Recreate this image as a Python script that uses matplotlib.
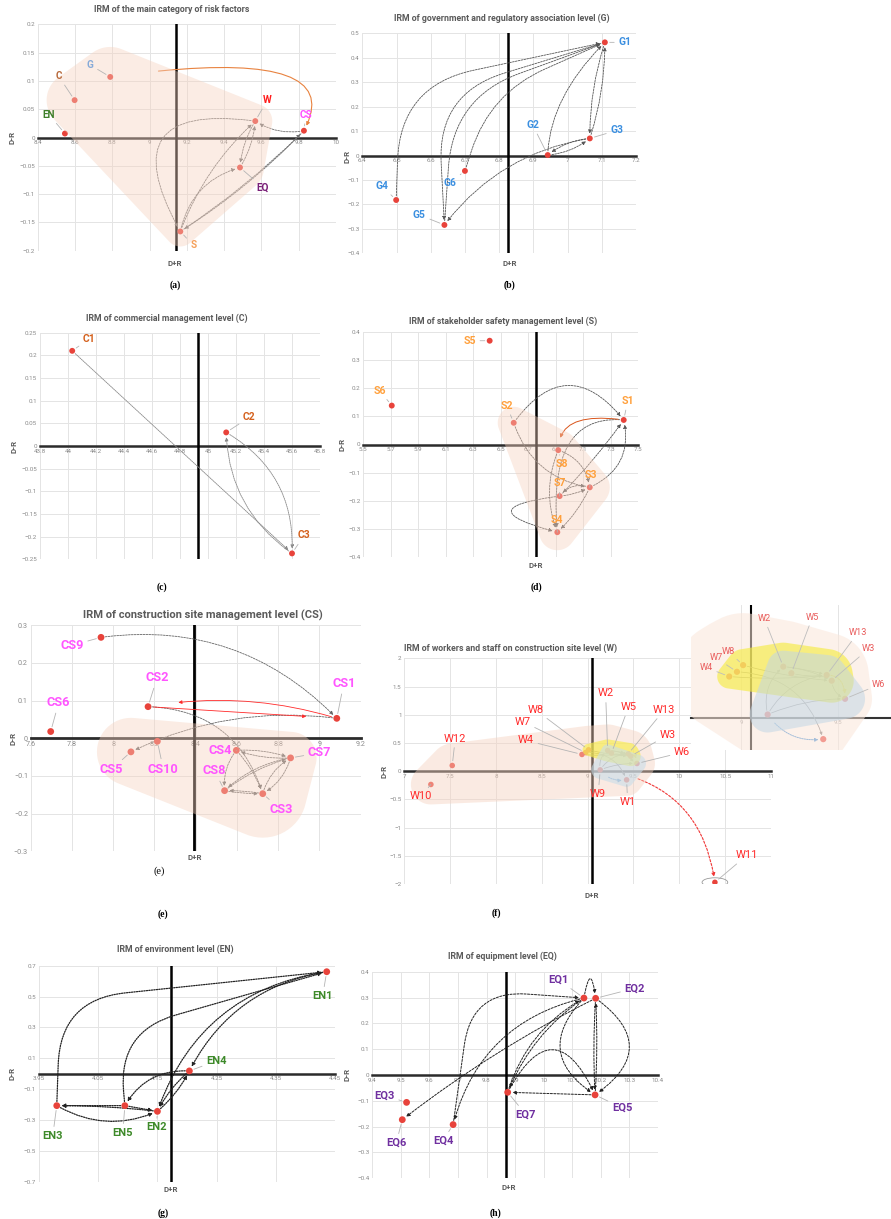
import numpy as np
import matplotlib
matplotlib.use("Agg")
import matplotlib.pyplot as plt
from matplotlib.patches import FancyArrowPatch, Polygon, Ellipse

# ------------------------------------------------------------------ data
# (a) main categories
a_names = ["EN", "C", "G", "W", "CS", "EQ", "S"]
a_x = [8.546, 8.598, 8.789, 9.567, 9.828, 9.485, 9.165]
a_y = [0.007, 0.066, 0.107, 0.029, 0.012, -0.053, -0.166]
a_center = 9.14
a_xticks = [8.4, 8.6, 8.8, 9.0, 9.2, 9.4, 9.6, 9.8, 10.0]
a_xlabels = ["8.4", "8.6", "8.8", "9", "9.2", "9.4", "9.6", "9.8", "10"]
a_yticks = [-0.2, -0.15, -0.1, -0.05, 0, 0.05, 0.1, 0.15, 0.2]
a_ylabels = ["−0.2", "−0.15", "−0.1", "−0.05", "0", "0.05", "0.1", "0.15", "0.2"]
a_links = [("S", "W", "arc3,rad=-0.12"), ("S", "EQ", "arc3,rad=-0.3"),
           ("S", "CS", "arc3,rad=0.05"), ("CS", "S", "arc3,rad=-0.06"),
           ("W", "EQ", "arc3,rad=0.12"), ("EQ", "W", "arc3,rad=0.12"),
           ("CS", "W", "arc3,rad=-0.2"), ("W", "S", "arc3,rad=1.0")]
a_special = [("G", "CS", "angle3,angleA=8,angleB=62")]

# (b) government level
b_names = ["G1", "G2", "G3", "G4", "G5", "G6"]
b_x = [7.109, 6.942, 7.065, 6.499, 6.640, 6.700]
b_y = [0.463, 0.002, 0.070, -0.182, -0.284, -0.063]
b_center = 6.825
b_xticks = [6.4, 6.5, 6.6, 6.7, 6.8, 6.9, 7.0, 7.1, 7.2]
b_xlabels = ["6.4", "6.5", "6.6", "6.7", "6.8", "6.9", "7", "7.1", "7.2"]
b_yticks = [-0.4, -0.3, -0.2, -0.1, 0, 0.1, 0.2, 0.3, 0.4, 0.5]
b_ylabels = ["−0.4", "−0.3", "−0.2", "−0.1", "0", "0.1", "0.2", "0.3", "0.4", "0.5"]
b_links = [("G4", "G1", "angle,angleA=88,angleB=12,rad=75"),
           ("G1", "G5", "angle,angleA=17,angleB=93,rad=70"),
           ("G5", "G1", "angle,angleA=86,angleB=20,rad=70"),
           ("G6", "G1", "angle,angleA=72,angleB=24,rad=60"),
           ("G2", "G1", "angle3,angleA=88,angleB=45"),
           ("G3", "G1", "arc3,rad=0.08"), ("G1", "G3", "arc3,rad=0.08"),
           ("G2", "G3", "arc3,rad=0.15"), ("G3", "G2", "arc3,rad=0.15"),
           ("G3", "G5", "arc3,rad=0.2")]

# (c) commercial level
c_names = ["C1", "C2", "C3"]
c_x = [44.03, 45.13, 45.60]
c_y = [0.210, 0.030, -0.237]
c_center = 44.93
c_xticks = [43.8, 44.0, 44.2, 44.4, 44.6, 44.8, 45.0, 45.2, 45.4, 45.6, 45.8]
c_xlabels = ["43.8", "44", "44.2", "44.4", "44.6", "44.8", "45", "45.2", "45.4", "45.6", "45.8"]
c_yticks = [-0.25, -0.2, -0.15, -0.1, -0.05, 0, 0.05, 0.1, 0.15, 0.2, 0.25]
c_ylabels = ["−0.25", "−0.2", "−0.15", "−0.1", "−0.05", "0", "0.05", "0.1", "0.15", "0.2", "0.25"]
c_links = [("C1", "C3", "arc3,rad=0"), ("C2", "C3", "arc3,rad=-0.3"),
           ("C3", "C2", "arc3,rad=-0.25")]

# (d) stakeholder safety level
d_names = ["S1", "S2", "S3", "S4", "S5", "S6", "S7", "S8"]
d_x = [7.394, 6.594, 7.147, 6.911, 6.419, 5.707, 6.928, 6.918]
d_y = [0.087, 0.077, -0.152, -0.311, 0.368, 0.138, -0.183, -0.020]
d_center = 6.756
d_xticks = [5.5, 5.7, 5.9, 6.1, 6.3, 6.5, 6.7, 6.9, 7.1, 7.3, 7.5]
d_xlabels = ["5.5", "5.7", "5.9", "6.1", "6.3", "6.5", "6.7", "6.9", "7.1", "7.3", "7.5"]
d_yticks = [-0.4, -0.3, -0.2, -0.1, 0, 0.1, 0.2, 0.3, 0.4]
d_ylabels = ["−0.4", "−0.3", "−0.2", "−0.1", "0", "0.1", "0.2", "0.3", "0.4"]
d_links = [("S2", "S1", "arc3,rad=-0.65"), ("S1", "S4", "angle3,angleA=175,angleB=95"),
           ("S2", "S3", "arc3,rad=0.3"), ("S8", "S3", "arc3,rad=-0.3"),
           ("S8", "S4", "arc3,rad=0.2"), ("S3", "S4", "arc3,rad=-0.1"),
           ("S7", "S3", "arc3,rad=0.1"), ("S3", "S7", "arc3,rad=0.35"),
           ("S7", "S4", "arc3,rad=2.6"), ("S7", "S1", "arc3,rad=0.04"),
           ("S3", "S1", "arc3,rad=0.4")]
d_special = [("S1", "S8", "angle3,angleA=172,angleB=90")]

# (e) construction site level
e_names = ["CS1", "CS2", "CS3", "CS4", "CS5", "CS6", "CS7", "CS8", "CS9", "CS10"]
e_x = [9.084, 8.169, 8.725, 8.597, 8.086, 7.697, 8.860, 8.540, 7.941, 8.214]
e_y = [0.053, 0.084, -0.147, -0.032, -0.036, 0.018, -0.052, -0.139, 0.268, -0.008]
e_center = 8.393
e_xticks = [7.6, 7.8, 8.0, 8.2, 8.4, 8.6, 8.8, 9.0, 9.2]
e_xlabels = ["7.6", "7.8", "8", "8.2", "8.4", "8.6", "8.8", "9", "9.2"]
e_yticks = [-0.3, -0.2, -0.1, 0, 0.1, 0.2, 0.3]
e_ylabels = ["−0.3", "−0.2", "−0.1", "0", "0.1", "0.2", "0.3"]
e_links = [("CS9", "CS1", "arc3,rad=-0.25"), ("CS1", "CS5", "arc3,rad=0.15"),
           ("CS2", "CS3", "arc3,rad=-0.35"),
           ("CS4", "CS7", "arc3,rad=-0.1"), ("CS7", "CS4", "arc3,rad=-0.1"),
           ("CS4", "CS8", "arc3,rad=0.2"), ("CS4", "CS3", "arc3,rad=-0.1"),
           ("CS7", "CS8", "arc3,rad=0.15"), ("CS7", "CS3", "arc3,rad=-0.2"),
           ("CS3", "CS7", "arc3,rad=-0.2"), ("CS8", "CS7", "arc3,rad=-0.1"),
           ("CS3", "CS8", "arc3,rad=0.05"), ("CS8", "CS3", "arc3,rad=0.05")]
e_special = [("CS1", "CS2", "arc3,rad=0.12"), ("CS2", "CS1", "arc3,rad=0")]

# (f) workers level
f_names = ["W1", "W2", "W3", "W4", "W5", "W6", "W7", "W8", "W9", "W10", "W11", "W12", "W13"]
f_x = [9.425, 9.218, 9.469, 8.938, 9.260, 9.538, 8.978, 9.010, 9.137, 7.290, 10.388, 7.523, 9.443]
f_y = [-0.154, 0.367, 0.266, 0.296, 0.320, 0.136, 0.330, 0.378, 0.023, -0.236, -1.970, 0.100, 0.307]
f_center = 9.05
f_xticks = [7.0, 7.5, 8.0, 8.5, 9.0, 9.5, 10.0, 10.5, 11.0]
f_xlabels = ["7", "7.5", "8", "8.5", "9", "9.5", "10", "10.5", "11"]
f_yticks = [-2, -1.5, -1, -0.5, 0, 0.5, 1, 1.5, 2]
f_ylabels = ["−2", "−1.5", "−1", "−0.5", "0", "0.5", "1", "1.5", "2"]
f_links = [("W2", "W3", "arc3,rad=-0.1"), ("W5", "W13", "arc3,rad=0.1"),
           ("W2", "W13", "arc3,rad=-0.05"), ("W8", "W3", "arc3,rad=0.05"),
           ("W4", "W13", "arc3,rad=0.05"), ("W7", "W1", "arc3,rad=-0.35"),
           ("W9", "W2", "arc3,rad=-0.3"), ("W9", "W6", "arc3,rad=-0.1"),
           ("W9", "W13", "arc3,rad=-0.25"), ("W3", "W6", "arc3,rad=0.3")]
f_yellow_link = ("W13", "W6", "angle3,angleA=0,angleB=90")
f_blue_link = ("W9", "W1", "arc3,rad=0.3")
f_red_link = ("W9", "W11", "arc3,rad=-0.38")
f_inset_xlim = (8.74, 9.776)
f_inset_ylim = (-0.232, 0.81)

# (g) environment level
g_names = ["EN1", "EN2", "EN3", "EN4", "EN5"]
g_x = [4.436, 4.150, 3.980, 4.204, 4.095]
g_y = [0.661, -0.244, -0.207, 0.018, -0.207]
g_center = 4.173
g_xticks = [3.95, 4.05, 4.15, 4.25, 4.35, 4.45]
g_xlabels = ["3.95", "4.05", "4.15", "4.25", "4.35", "4.45"]
g_yticks = [-0.7, -0.5, -0.3, -0.1, 0.1, 0.3, 0.5, 0.7]
g_ylabels = ["−0.7", "−0.5", "−0.3", "−0.1", "0.1", "0.3", "0.5", "0.7"]
g_links = [("EN3", "EN1", "angle,angleA=88,angleB=6,rad=65"),
           ("EN5", "EN1", "angle,angleA=95,angleB=16,rad=60"),
           ("EN1", "EN2", "arc3,rad=0.3"), ("EN1", "EN4", "arc3,rad=0.25"),
           ("EN4", "EN2", "arc3,rad=0.1"), ("EN2", "EN4", "arc3,rad=0.1"),
           ("EN5", "EN3", "arc3,rad=0"), ("EN2", "EN3", "arc3,rad=0.03"),
           ("EN3", "EN2", "arc3,rad=0.25"), ("EN5", "EN2", "arc3,rad=0"),
           ("EN4", "EN5", "arc3,rad=0.3")]

# (h) equipment level
h_names = ["EQ1", "EQ2", "EQ3", "EQ4", "EQ5", "EQ6", "EQ7"]
h_x = [10.141, 10.182, 9.520, 9.683, 10.180, 9.505, 9.874]
h_y = [0.298, 0.297, -0.106, -0.192, -0.077, -0.173, -0.067]
h_center = 9.868
h_xticks = [9.4, 9.5, 9.6, 9.7, 9.8, 9.9, 10.0, 10.1, 10.2, 10.3, 10.4]
h_xlabels = ["9.4", "9.5", "9.6", "9.7", "9.8", "9.9", "10", "10.1", "10.2", "10.3", "10.4"]
h_yticks = [-0.4, -0.3, -0.2, -0.1, 0, 0.1, 0.2, 0.3, 0.4]
h_ylabels = ["−0.4", "−0.3", "−0.2", "−0.1", "0", "0.1", "0.2", "0.3", "0.4"]
h_links = [("EQ4", "EQ1", "angle,angleA=82,angleB=-4,rad=55"),
           ("EQ1", "EQ4", "arc3,rad=0.3"), ("EQ2", "EQ6", "arc3,rad=0.05"),
           ("EQ7", "EQ1", "arc3,rad=-0.2"), ("EQ1", "EQ7", "arc3,rad=0.15"),
           ("EQ2", "EQ5", "arc3,rad=0.03"), ("EQ5", "EQ2", "arc3,rad=0.03"),
           ("EQ1", "EQ2", "arc3,rad=-3.3"), ("EQ2", "EQ5", "arc3,rad=-0.7"),
           ("EQ5", "EQ7", "arc3,rad=0"), ("EQ7", "EQ5", "arc3,rad=-1.0"),
           ("EQ1", "EQ5", "arc3,rad=0.6")]

# ------------------------------------------------------------------ figure
W, H, DPI = 891, 1219, 100
plt.rcParams['font.family'] = ['Roboto', 'DejaVu Sans']
plt.rcParams['axes.unicode_minus'] = True
fig = plt.figure(figsize=(W / DPI, H / DPI), dpi=DPI)
fig.patch.set_facecolor('white')

GRAY_T = '#5a5a5a'
PT_RED = '#e8433b'


def px_axes(l, t, r, b):
    return fig.add_axes([l / W, 1 - b / H, (r - l) / W, (b - t) / H])


def ftext(x, y, s, **kw):
    fig.text(x / W, 1 - y / H, s, **kw)


def panel(box, xlim, ylim, xt, xl, yt, yl, xc, lw_axis=1.8):
    ax = px_axes(*box)
    ax.set_xlim(xlim)
    ax.set_ylim(ylim)
    ax.set_xticks(xt)
    ax.set_xticklabels(xl)
    ax.set_yticks(yt)
    ax.set_yticklabels(yl)
    ax.grid(True, color='#e4e4e4', lw=0.7)
    ax.set_axisbelow(True)
    for s in ['top', 'right', 'left']:
        ax.spines[s].set_visible(False)
    ax.spines['bottom'].set_position(('data', 0))
    ax.spines['bottom'].set_color('#2b2b2b')
    ax.spines['bottom'].set_linewidth(lw_axis)
    ax.spines['bottom'].set_zorder(2.5)
    ax.tick_params(length=0, labelsize=4.5, labelcolor='#8a8a8a', pad=2)
    ax.axvline(xc, color='black', lw=lw_axis, zorder=2.6)
    ax.set_facecolor('white')
    return ax


def pts(ax, xs, ys, color=PT_RED, s=18, z=4):
    ax.scatter(xs, ys, s=s, color=color, zorder=z, edgecolors='none')


def links(ax, names, xs, ys, lst, color='#6f6f6f', ls=(0, (2.2, 1.3)), lw=0.6,
          ms=5, sa=3, sb=3.5, z=3):
    idx = {n: i for i, n in enumerate(names)}
    for src, dst, cs in lst:
        i, j = idx[src], idx[dst]
        ax.add_patch(FancyArrowPatch((xs[i], ys[i]), (xs[j], ys[j]),
                                     connectionstyle=cs, arrowstyle='-|>',
                                     mutation_scale=ms, color=color, lw=lw,
                                     linestyle=ls, shrinkA=sa, shrinkB=sb,
                                     zorder=z))


def labels(ax, names, xs, ys, offs, color, size, weight='bold', lead='#b4b4b4',
           z=7, ha=None):
    for n, x, y in zip(names, xs, ys):
        dx, dy = offs[n]
        c = color[n] if isinstance(color, dict) else color
        h = ha[n] if (ha and n in ha) else 'center'
        ax.annotate(n, xy=(x, y), xytext=(dx, dy), textcoords='offset pixels',
                    ha=h, va='center', fontsize=size, color=c,
                    fontweight=weight, zorder=z, annotation_clip=False,
                    arrowprops=dict(arrowstyle='-', color=lead, lw=0.6,
                                    shrinkA=1, shrinkB=3.5))


def hull(points):
    P = sorted(map(tuple, points))

    def cross(o, a, b):
        return (a[0] - o[0]) * (b[1] - o[1]) - (a[1] - o[1]) * (b[0] - o[0])
    lower, upper = [], []
    for p in P:
        while len(lower) >= 2 and cross(lower[-2], lower[-1], p) <= 0:
            lower.pop()
        lower.append(p)
    for p in reversed(P):
        while len(upper) >= 2 and cross(upper[-2], upper[-1], p) <= 0:
            upper.pop()
        upper.append(p)
    return np.array(lower[:-1] + upper[:-1])


def blob(ax, names, xs, ys, members, color, alpha, z=5):
    idx = {n: i for i, n in enumerate(names)}
    th = np.linspace(0, 2 * np.pi, 60, endpoint=False)
    circ = np.c_[np.cos(th), np.sin(th)]
    allp = []
    for n, r in members.items():
        p = ax.transData.transform((xs[idx[n]], ys[idx[n]]))
        allp.append(p + r * circ)
    hp = hull(np.vstack(allp))
    data = ax.transData.inverted().transform(hp)
    ax.add_patch(Polygon(data, closed=True, fc=color, ec='none', alpha=alpha,
                         zorder=z))


def title(x, y, s, size=6.3, ha='center'):
    ftext(x, y, s, ha=ha, va='center', fontsize=size, fontweight='bold', color=GRAY_T)


def ylab(x, y):
    ftext(x, y, "D-R", rotation=90, ha='center', va='center', fontsize=5.6,
          fontweight='bold', color=GRAY_T)


def xlab(x, y):
    ftext(x, y, "D+R", ha='center', va='center', fontsize=5.6,
          fontweight='bold', color=GRAY_T)


def letter(x, y, s):
    ftext(x, y, s, ha='center', va='center', fontsize=7, fontweight='bold',
          family='Liberation Serif', color='black')


# ------------------------------------------------------------------ (a)
ax = panel((37.7, 24.3, 336, 250.7), (8.4, 10), (-0.2, 0.2), a_xticks, a_xlabels,
           a_yticks, a_ylabels, a_center)
links(ax, a_names, a_x, a_y, a_links)
links(ax, a_names, a_x, a_y, a_special, color='#e8823f', ls='-', lw=0.8, sa=35, sb=4)
pts(ax, a_x, a_y)
blob(ax, a_names, a_x, a_y, {"C": 28, "G": 30, "W": 17, "EQ": 24, "S": 15},
     '#f6d2bf', 0.42)
a_off = {"EN": (-16, 19), "C": (-16, 24), "G": (-20, 12), "W": (12, 21),
         "CS": (2, 16), "EQ": (23, -20), "S": (13, -14)}
a_col = {"EN": '#3f7f2a', "C": '#b86a3c', "G": '#86aad8', "W": '#ff1a1a',
         "CS": '#ff4dff', "EQ": '#7a1f78', "S": '#f5a05a'}
labels(ax, a_names, a_x, a_y, a_off, a_col, 7.2)
title(172, 10, "IRM of the main category of risk factors")
ylab(12, 137)
xlab(175, 263)
letter(175, 285, "(a)")

# ------------------------------------------------------------------ (b)
ax = panel((362.3, 33.3, 636, 253.3), (6.4, 7.2), (-0.4, 0.5), b_xticks, b_xlabels,
           b_yticks, b_ylabels, b_center)
links(ax, b_names, b_x, b_y, b_links, color='#555555')
pts(ax, b_x, b_y)
b_off = {"G1": (20, 0), "G2": (-15, 30), "G3": (27, 8), "G4": (-14, 14),
         "G5": (-25, 10), "G6": (-15, -12)}
labels(ax, b_names, b_x, b_y, b_off, '#3b8fe0', 7.4)
title(501.7, 18.3, "IRM of government and regulatory association level (G)")
ylab(347, 156)
xlab(510, 263)
letter(510, 285, "(b)")

# ------------------------------------------------------------------ (c)
ax = panel((40, 332.7, 320, 559.3), (43.8, 45.8), (-0.25, 0.25), c_xticks, c_xlabels,
           c_yticks, c_ylabels, c_center)
links(ax, c_names, c_x, c_y, c_links, color='#8a8a8a', ls=(0, (1.5, 1.0)))
pts(ax, c_x, c_y)
c_off = {"C1": (17, 12), "C2": (23, 15), "C3": (12, 18)}
labels(ax, c_names, c_x, c_y, c_off, '#d4601c', 7.4)
title(166.7, 318.3, "IRM of commercial management level (C)")
ylab(14, 446)
letter(162, 587, "(c)")

# ------------------------------------------------------------------ (d)
ax = panel((363.3, 331.7, 638.3, 557.3), (5.5, 7.5), (-0.4, 0.4), d_xticks, d_xlabels,
           d_yticks, d_ylabels, d_center)
links(ax, d_names, d_x, d_y, d_links, color='#555555')
links(ax, d_names, d_x, d_y, d_special, color='#d9541a', ls='-', lw=0.7, sa=4, sb=9)
pts(ax, d_x, d_y)
blob(ax, d_names, d_x, d_y, {"S2": 16, "S8": 20, "S3": 20, "S7": 20, "S4": 18},
     '#f6d2bf', 0.42)
d_off = {"S1": (4, 19), "S2": (-7, 17), "S3": (1, 12), "S4": (0, 12),
         "S5": (-20, 0), "S6": (-12, 15), "S7": (0, 13), "S8": (4, -14)}
labels(ax, d_names, d_x, d_y, d_off, '#ffa03c', 7.6)
title(503.3, 321.7, "IRM of stakeholder safety management level (S)")
ylab(342, 444)
xlab(536, 565)
letter(536, 587, "(d)")

# ------------------------------------------------------------------ (e)
ax = panel((30.7, 625.3, 360.7, 851.3), (7.6, 9.2), (-0.3, 0.3), e_xticks, e_xlabels,
           e_yticks, e_ylabels, e_center, lw_axis=2.0)
ax.tick_params(labelsize=5.2)
links(ax, e_names, e_x, e_y, e_links, color='#666666')
links(ax, e_names, e_x, e_y, e_special, color='#ff2a2a', ls='-', lw=0.6, sa=4, sb=22)
pts(ax, e_x, e_y, s=24)
blob(ax, e_names, e_x, e_y, {"CS5": 34, "CS10": 20, "CS4": 14, "CS7": 26,
                             "CS8": 32, "CS3": 44}, '#f6d2bf', 0.42)
e_off = {"CS1": (7, 35), "CS2": (9, 29), "CS3": (18, -16), "CS4": (-16, 0),
         "CS5": (-20, -18), "CS6": (8, 29), "CS7": (29, 5), "CS8": (-10, 20),
         "CS9": (-29, -8), "CS10": (6, -28)}
labels(ax, e_names, e_x, e_y, e_off, '#ff55ff', 9.2)
title(203.3, 615, "IRM of construction site management level (CS)", size=8)
ylab(13, 738)
xlab(195, 858)
ftext(159, 871, "(e)", ha='center', va='center', fontsize=7.5,
      family='Liberation Serif', color='black')
letter(163, 914, "(e)")


# ------------------------------------------------------------------ (f)
def draw_w(ax, inset=False):
    links(ax, f_names, f_x, f_y, f_links, color='#777777', ls='-', lw=0.55,
          ms=4, sa=3, sb=3)
    links(ax, f_names, f_x, f_y, [f_yellow_link], color='#f2c200',
          ls=(0, (1.5, 1)), lw=0.8, ms=5)
    links(ax, f_names, f_x, f_y, [f_blue_link], color='#3b8ed8',
          ls=(0, (1.5, 1)), lw=0.7, ms=5, sa=8)
    pts(ax, f_x, f_y, s=20 if inset else 16)


axf = panel((404.3, 658.3, 771, 884), (7, 11), (-2, 2), f_xticks, f_xlabels,
            f_yticks, f_ylabels, f_center)
draw_w(axf)
links(axf, f_names, f_x, f_y, [f_red_link], color='#f03535', ls=(0, (2, 1.5)),
      lw=0.8, sa=28, sb=4, ms=5)
ix = f_names.index("W11")
axf.add_patch(Ellipse((f_x[ix], f_y[ix]), 0.28, 0.16, fill=False, ec='#999999',
                      lw=0.6, zorder=3))
blob(axf, f_names, f_x, f_y, {"W10": 20, "W12": 22, "W8": 24, "W2": 26, "W13": 24,
                              "W6": 18, "W1": 16, "W9": 18}, '#f6d2bf', 0.45)
blob(axf, f_names, f_x, f_y, {"W2": 11, "W13": 11, "W3": 10, "W8": 6},
     '#f7ee4a', 0.65, z=5.2)
blob(axf, f_names, f_x, f_y, {"W9": 9, "W2": 6, "W6": 9, "W1": 7},
     '#c9dde9', 0.6, z=5.4)
f_off = {"W1": (1, -22), "W2": (-2, 57), "W3": (37, 21), "W4": (-56, 14),
         "W5": (17, 46), "W6": (45, 11), "W7": (-63, 31), "W8": (-53, 40),
         "W9": (-2, -24), "W10": (-10, -12), "W11": (32, 27), "W12": (3, 27),
         "W13": (36, 44)}
labels(axf, f_names, f_x, f_y, f_off, '#ff2a2a', 8, weight='normal')
ftext(404, 648.3, "IRM of workers and staff on construction site level (W)",
      ha='left', va='center', fontsize=6.3, fontweight='bold', color=GRAY_T)
ylab(384, 771)
xlab(592, 895)
letter(496, 913, "(f)")

# inset (zoomed view of the W cluster)
axi = px_axes(691, 605, 891, 750)
axi.set_xlim(f_inset_xlim)
axi.set_ylim(f_inset_ylim)
axi.set_facecolor('white')
for s in ['top', 'right', 'left']:
    axi.spines[s].set_visible(False)
axi.spines['bottom'].set_position(('data', 0))
axi.spines['bottom'].set_color('#333333')
axi.spines['bottom'].set_linewidth(1.5)
axi.set_xticks([9.0, 9.5])
axi.set_xticklabels(["9", "9.5"])
axi.set_yticks([])
axi.tick_params(length=0, labelsize=4.4, labelcolor='#9a9a9a', pad=2)
axi.grid(True, axis='x', color='#e4e4e4', lw=0.7)
axi.set_axisbelow(True)
axi.axvline(f_center, color='black', lw=1.5, zorder=2.6)
draw_w(axi, inset=True)
blob(axi, f_names, f_x, f_y, {"W4": 55, "W7": 55, "W8": 52, "W2": 46, "W5": 46,
                              "W13": 42, "W3": 36, "W6": 27, "W9": 44, "W1": 22},
     '#fbe6da', 0.55, z=4.8)
blob(axi, f_names, f_x, f_y, {"W4": 12, "W7": 14, "W8": 16, "W2": 24, "W5": 24,
                              "W13": 26, "W3": 22}, '#f5ec3c', 0.62, z=5.2)
blob(axi, f_names, f_x, f_y, {"W9": 18, "W2": 16, "W13": 20, "W6": 20, "W3": 18},
     '#c2d7e6', 0.55, z=5.4)
fi_names = ["W2", "W5", "W13", "W3", "W6", "W8", "W7", "W4"]
fi_idx = [f_names.index(n) for n in fi_names]
fi_off = {"W2": (-19, 48), "W5": (21, 56), "W13": (31, 42), "W3": (37, 32),
          "W6": (27, 14), "W8": (-15, 14), "W7": (-21, 14), "W4": (-23, 9)}
labels(axi, fi_names, [f_x[i] for i in fi_idx], [f_y[i] for i in fi_idx], fi_off,
       '#e95c5c', 6.6, weight='normal', lead='#bdbdbd', ha={"W6": 'left'})

# ------------------------------------------------------------------ (g)
ax = panel((39, 965.7, 335, 1181.7), (3.95, 4.45), (-0.7, 0.7), g_xticks, g_xlabels,
           g_yticks, g_ylabels, g_center)
links(ax, g_names, g_x, g_y, g_links, color='#222222', ls=(0, (1.0, 1.0)), lw=0.9)
pts(ax, g_x, g_y, s=24)
g_off = {"EN1": (-4, -24), "EN2": (-1, -16), "EN3": (-4, -30), "EN4": (27, 10),
         "EN5": (-2, -27)}
labels(ax, g_names, g_x, g_y, g_off, '#3e8a2a', 8)
title(175, 949.3, "IRM of environment level (EN)")
ylab(12, 1073)
xlab(171, 1189)
letter(163, 1213, "(g)")

# ------------------------------------------------------------------ (h)
ax = panel((372.3, 971.7, 657.9, 1178.3), (9.4, 10.4), (-0.4, 0.4), h_xticks, h_xlabels,
           h_yticks, h_ylabels, h_center)
links(ax, h_names, h_x, h_y, h_links, color='#222222', ls=(0, (2.2, 1.4)), lw=0.7)
pts(ax, h_x, h_y, s=24)
h_off = {"EQ1": (-25, 18), "EQ2": (39, 10), "EQ3": (-22, 7), "EQ4": (-10, -16),
         "EQ5": (27, -13), "EQ6": (-6, -23), "EQ7": (18, -22)}
labels(ax, h_names, h_x, h_y, h_off, '#7030a0', 8)
title(502.7, 956.7, "IRM of equipment level (EQ)")
ylab(347, 1074)
xlab(509, 1188)
letter(495, 1213, "(h)")

fig.savefig("out.png", dpi=DPI)
